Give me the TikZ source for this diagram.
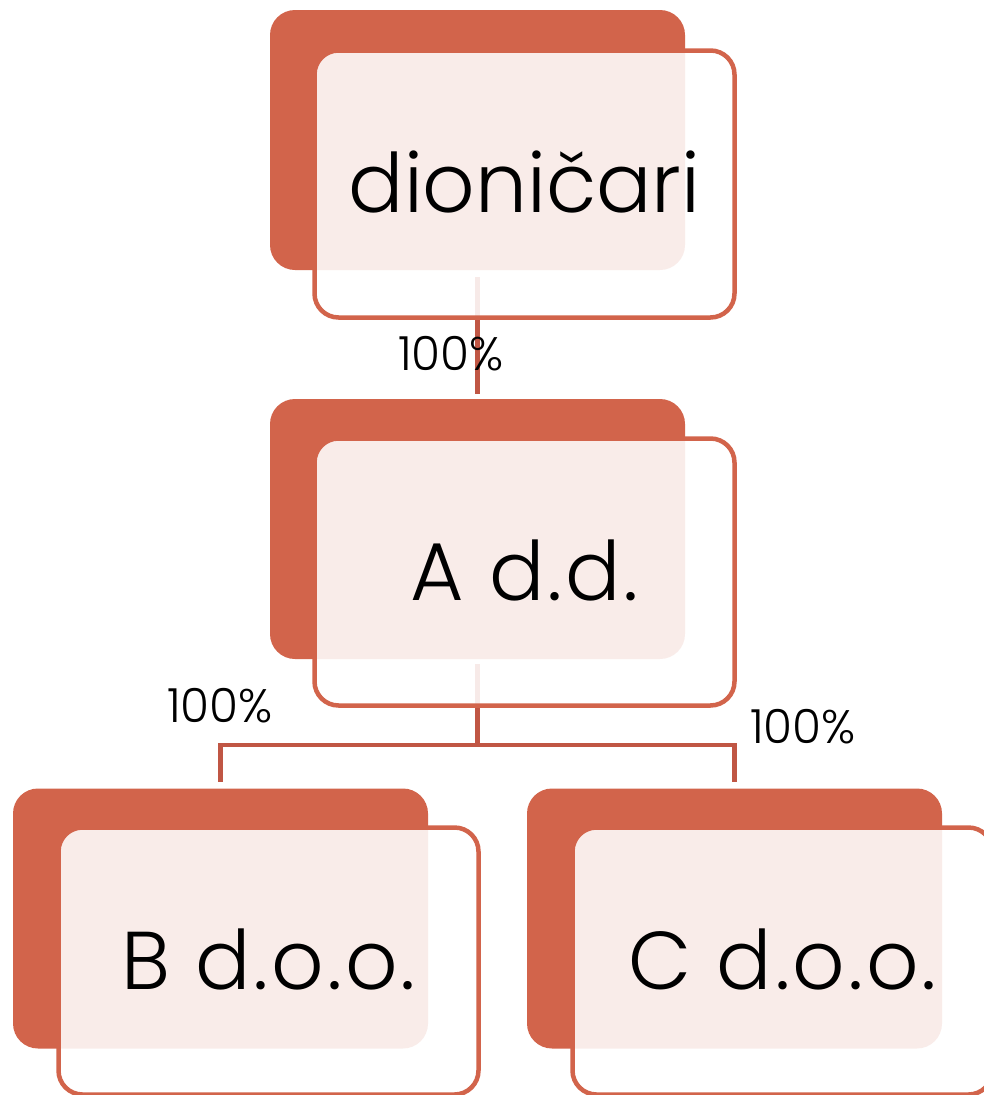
\documentclass[tikz,border=0pt]{standalone}
\usepackage{fontspec}
\setmainfont{Poppins}[UprightFont=* Light]
\usetikzlibrary{calc,backgrounds}

\definecolor{rust}{RGB}{210,100,75}
\definecolor{rustdark}{RGB}{192,86,68}

\begin{document}
\begin{tikzpicture}[x=1pt,y=-1pt,
    backbox/.style={fill=rust, rounded corners=25pt, minimum width=415pt, minimum height=260pt, inner sep=0pt},
    frontbox/.style={draw=rust, line width=4.5pt, fill=white, fill opacity=0.88, text opacity=1, rounded corners=24pt,
        minimum width=420pt, minimum height=267pt, inner sep=0pt, text height=62pt, text depth=6pt,
        font=\fontsize{82}{90}\selectfont},
    firm/.style={frontbox, font=\fontsize{82}{90}\selectfont\addfontfeature{LetterSpace=3.5}},
    share/.style={font=\fontsize{47}{50}\selectfont, anchor=base},
    link/.style={draw=rustdark, line width=4.5pt}]

    \useasboundingbox (0,0) rectangle (984,1095);

    % shareholders
    \node[backbox] (dion-b) at (477.5,140) {};
    \node[frontbox] (dion) at (524.5,184) {dioničari};

    % parent company
    \node[backbox] (add-b) at (477.5,529) {};
    \node[firm] (add) at (524.5,572) {A d.d.};

    % subsidiaries
    \node[backbox] (bdoo-b) at (220.5,918.5) {};
    \node[firm] (bdoo) at (268.5,961) {B d.o.o.};

    \node[backbox] (cdoo-b) at (734.5,918.5) {};
    \node[firm] (cdoo) at (782.5,961) {C d.o.o.};

    % connectors (behind the boxes)
    \begin{scope}[on background layer]
        \draw[link, shorten <=7pt, shorten >=5pt] (dion-b.south) -- (add-b.north);
        \coordinate (fork) at ($(add-b.south)+(0,86)$);
        \draw[link, shorten <=5pt] (add-b.south) -- (fork);
        \draw[link, shorten >=6pt] (fork) -| (bdoo-b.north);
        \draw[link, shorten >=6pt] (fork) -| (cdoo-b.north);
    \end{scope}

    % shares
    \node[share] (s-add) at (451,370) {100\%};
    \node[share] (s-bdoo) at (220,722) {100\%};
    \node[share] (s-cdoo) at (803,743) {100\%};

\end{tikzpicture}
\end{document}
